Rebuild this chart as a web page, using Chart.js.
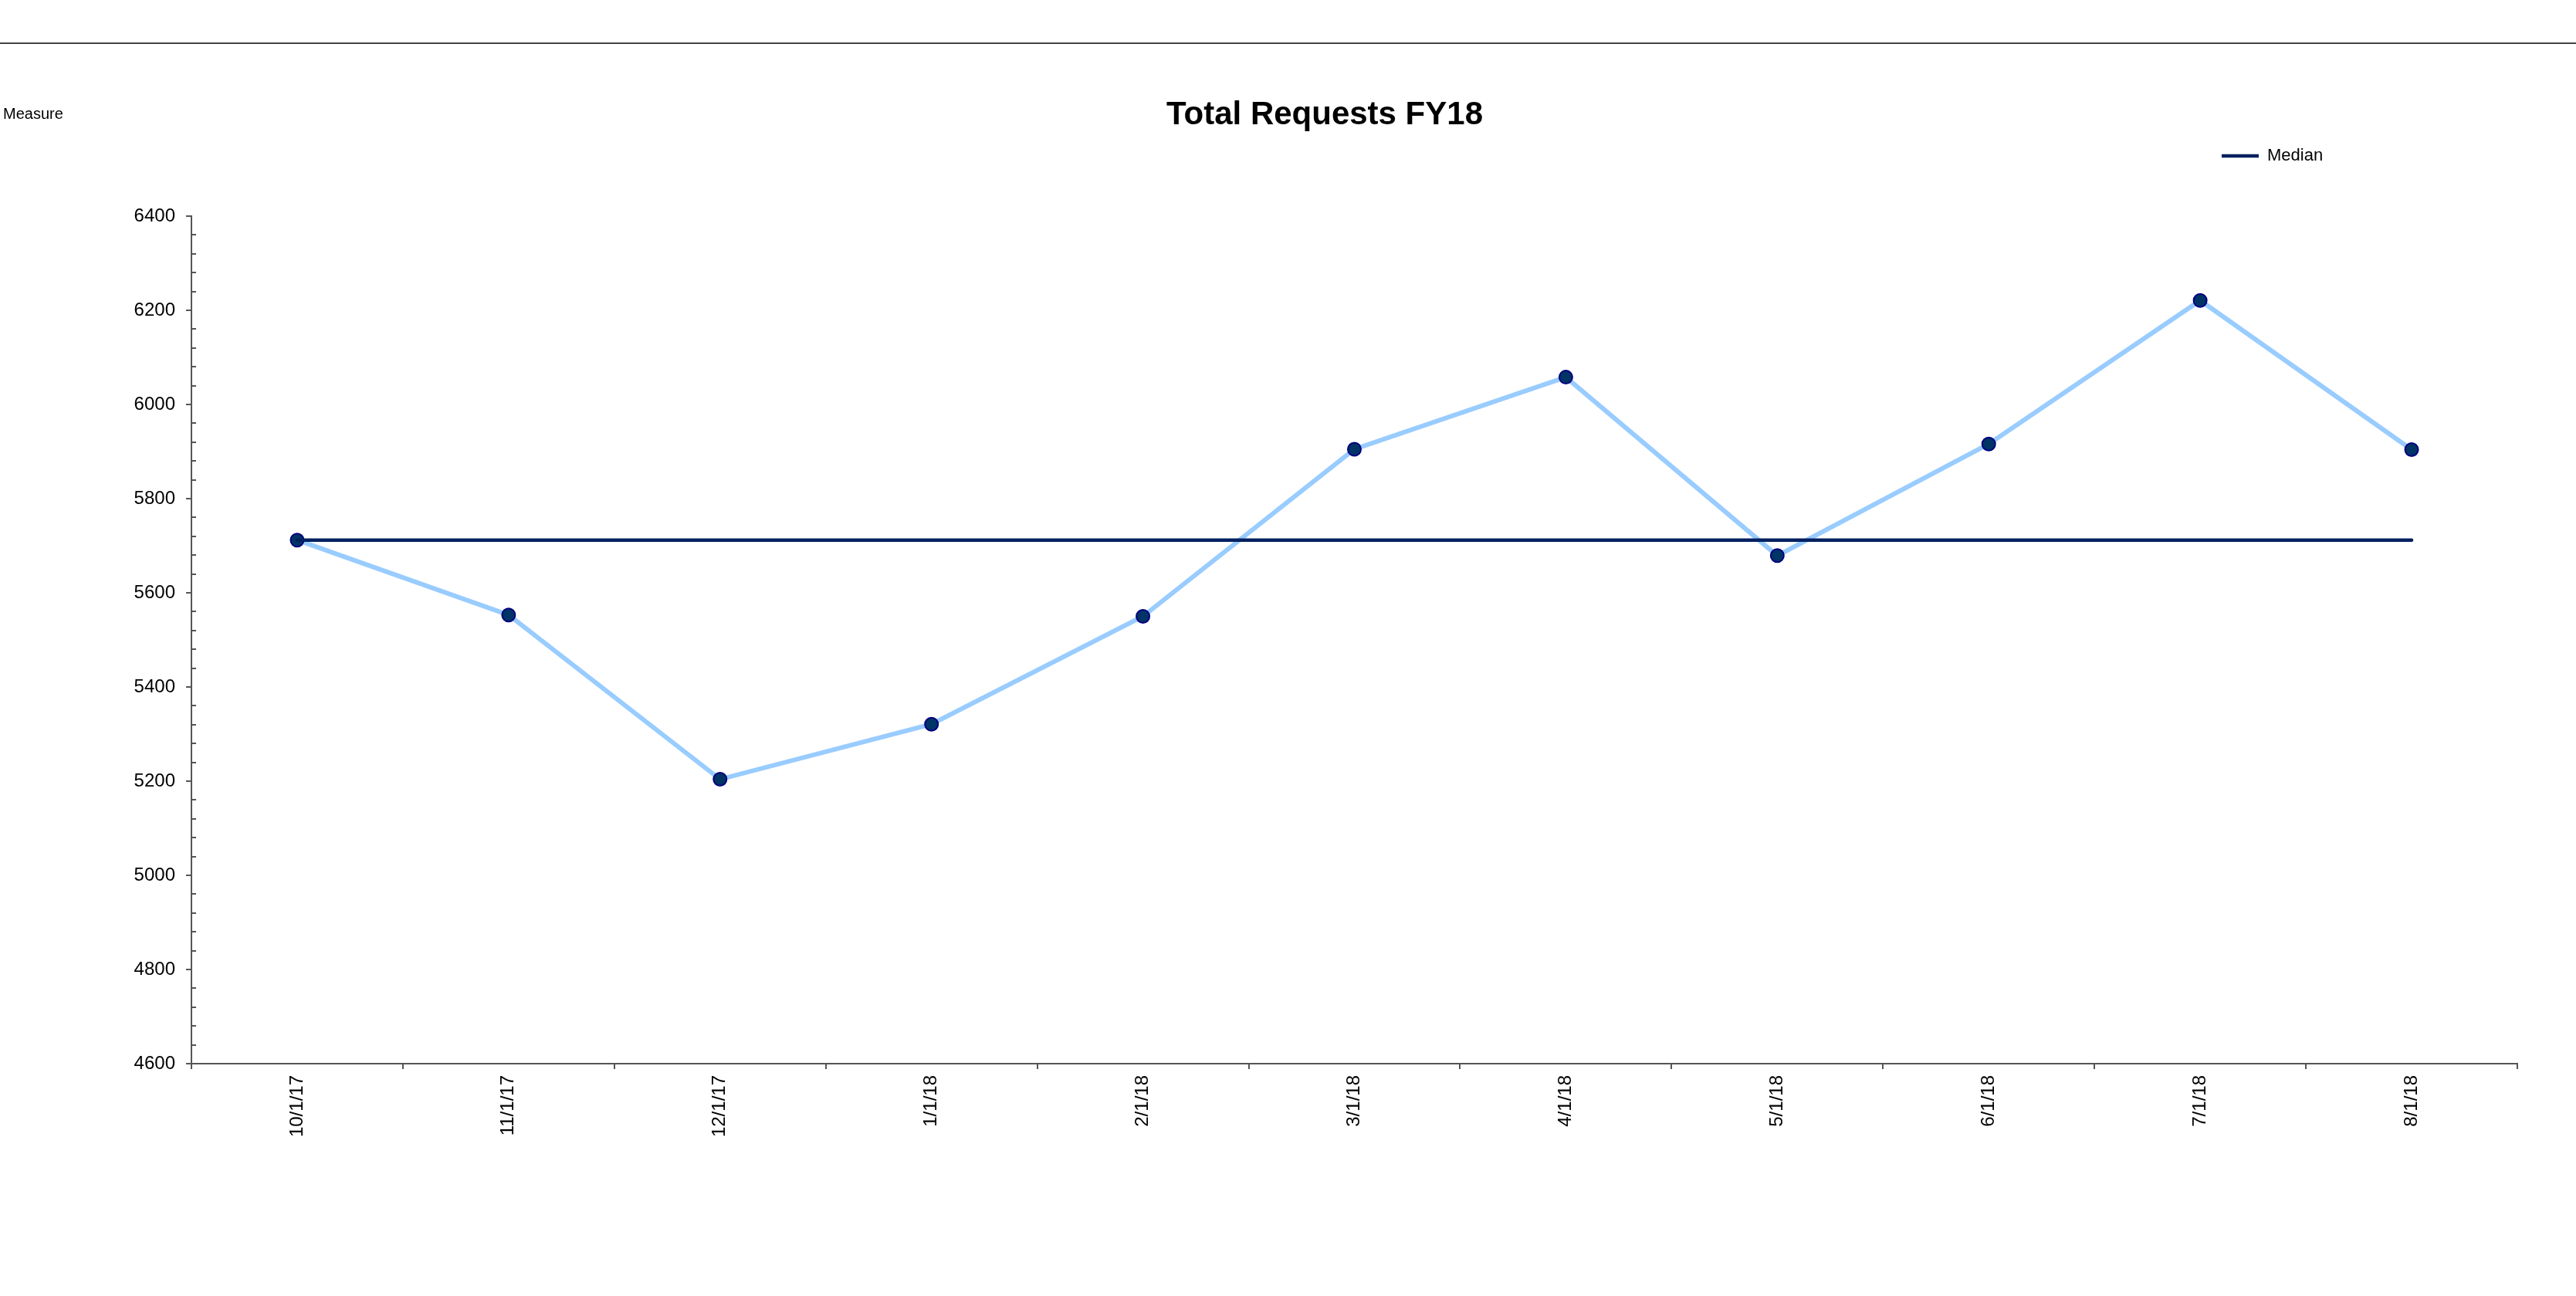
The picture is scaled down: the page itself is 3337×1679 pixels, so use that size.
<!DOCTYPE html>
<html>
<head>
<meta charset="utf-8">
<title>Total Requests FY18</title>
<script src="https://cdn.jsdelivr.net/npm/chart.js@4.4.1/dist/chart.umd.min.js"></script>
<style>
  html, body { margin: 0; padding: 0; background: #fff; }
  body { width: 3337px; height: 1679px; position: relative; overflow: hidden;
         font-family: 'Liberation Sans', Arial, sans-serif; }
  canvas { position: absolute; left: 0; top: 0; }
  #rule { position: absolute; left: 0; top: 55px; width: 3337px; height: 0; border-top: 2px solid #444; }
  #measure { position: absolute; left: 4px; top: 137px; font-size: 20px; line-height: 1; color: #000; }
</style>
</head>
<body>
<canvas id="chart" width="3337" height="1679"></canvas>
<div id="rule"></div>
<div id="measure">Measure</div>
<script>
// Monthly request counts, fiscal year 2018
const CATEGORIES = ['10/1/17', '11/1/17', '12/1/17', '1/1/18', '2/1/18', '3/1/18',
                    '4/1/18', '5/1/18', '6/1/18', '7/1/18', '8/1/18'];
const TOTAL_REQUESTS = [5712, 5553, 5204, 5321, 5550, 5905, 6058, 5679, 5916, 6221, 5904];
const MEDIAN = [5712, 5712, 5712, 5712, 5712, 5712, 5712, 5712, 5712, 5712, 5712];

// Value axis range and tick spacing
const Y_MIN = 4600;
const Y_MAX = 6400;
const Y_STEP = 200;
const Y_MINOR_STEP = 40;

const FONT = "'Liberation Sans', Arial, sans-serif";
const AXIS_COLOR = '#555';

// Short inward minor ticks on the value axis
const minorTicks = {
  id: 'minorTicks',
  afterDraw(chart) {
    const ys = chart.scales.y;
    const ctx = chart.ctx;
    const x0 = ys.right;
    ctx.save();
    ctx.strokeStyle = AXIS_COLOR;
    ctx.lineWidth = 2;
    ctx.beginPath();
    for (let v = Y_MIN; v <= Y_MAX; v += Y_MINOR_STEP) {
      if ((v - Y_MIN) % Y_STEP === 0) continue;
      const py = Math.round(ys.getPixelForValue(v));
      ctx.moveTo(x0, py);
      ctx.lineTo(x0 + 6, py);
    }
    ctx.stroke();
    ctx.restore();
  }
};

// Put the legend in the upper right, just above the plot
const legendPlacement = {
  id: 'legendPlacement',
  afterLayout(chart) {
    const lg = chart.legend;
    if (!lg) return;
    const h = lg.height;
    const w = 220;
    lg.left = 2868;
    lg.right = lg.left + w;
    lg.width = w;
    lg.top = 181;
    lg.bottom = lg.top + h;
  }
};

Chart.defaults.font.family = FONT;
Chart.defaults.color = '#000';

new Chart(document.getElementById('chart'), {
  type: 'line',
  data: {
    labels: CATEGORIES,
    datasets: [
      {
        label: 'Median',
        data: MEDIAN,
        borderColor: '#002060',
        backgroundColor: '#002060',
        borderWidth: 4.5,
        borderCapStyle: 'round',
        pointRadius: 0,
        pointHoverRadius: 0,
        tension: 0,
        order: 0
      },
      {
        label: 'Total Requests',
        data: TOTAL_REQUESTS,
        borderColor: '#99CCFF',
        backgroundColor: '#003366',
        borderWidth: 6,
        pointRadius: 8.5,
        pointHoverRadius: 8.5,
        pointBackgroundColor: '#003366',
        pointBorderColor: '#000080',
        pointBorderWidth: 2,
        tension: 0,
        order: 1
      }
    ]
  },
  options: {
    responsive: false,
    animation: false,
    devicePixelRatio: 1,
    layout: { padding: { left: 171, right: 76, top: 0, bottom: 0 } },
    plugins: {
      title: {
        display: true,
        text: 'Total Requests FY18',
        color: '#000',
        font: { family: FONT, size: 42, weight: 'bold' },
        padding: { top: 123.8, bottom: 63.8 }
      },
      legend: {
        display: true,
        position: 'top',
        align: 'start',
        labels: {
          usePointStyle: true,
          pointStyle: 'line',
          pointStyleWidth: 48,
          padding: 10,
          color: '#000',
          font: { family: FONT, size: 22 },
          filter: (item) => item.text === 'Median'
        }
      },
      tooltip: { enabled: false }
    },
    scales: {
      x: {
        type: 'category',
        offset: true,
        grid: {
          offset: true,
          drawOnChartArea: false,
          drawTicks: true,
          tickLength: 7,
          color: AXIS_COLOR,
          lineWidth: 2
        },
        border: { display: true, color: AXIS_COLOR, width: 2 },
        ticks: {
          autoSkip: false,
          minRotation: 90,
          maxRotation: 90,
          padding: 8,
          color: '#000',
          font: { family: FONT, size: 24 }
        },
        afterFit(scale) { scale.height = 301; }
      },
      y: {
        min: Y_MIN,
        max: Y_MAX,
        grid: {
          drawOnChartArea: false,
          drawTicks: true,
          tickLength: 7,
          color: AXIS_COLOR,
          lineWidth: 2
        },
        border: { display: true, color: AXIS_COLOR, width: 2 },
        ticks: {
          stepSize: Y_STEP,
          padding: 14,
          color: '#000',
          font: { family: FONT, size: 24 },
          callback: (value) => String(value)
        },
        afterFit(scale) { scale.width = 77; }
      }
    }
  },
  plugins: [minorTicks, legendPlacement]
});
</script>
</body>
</html>
